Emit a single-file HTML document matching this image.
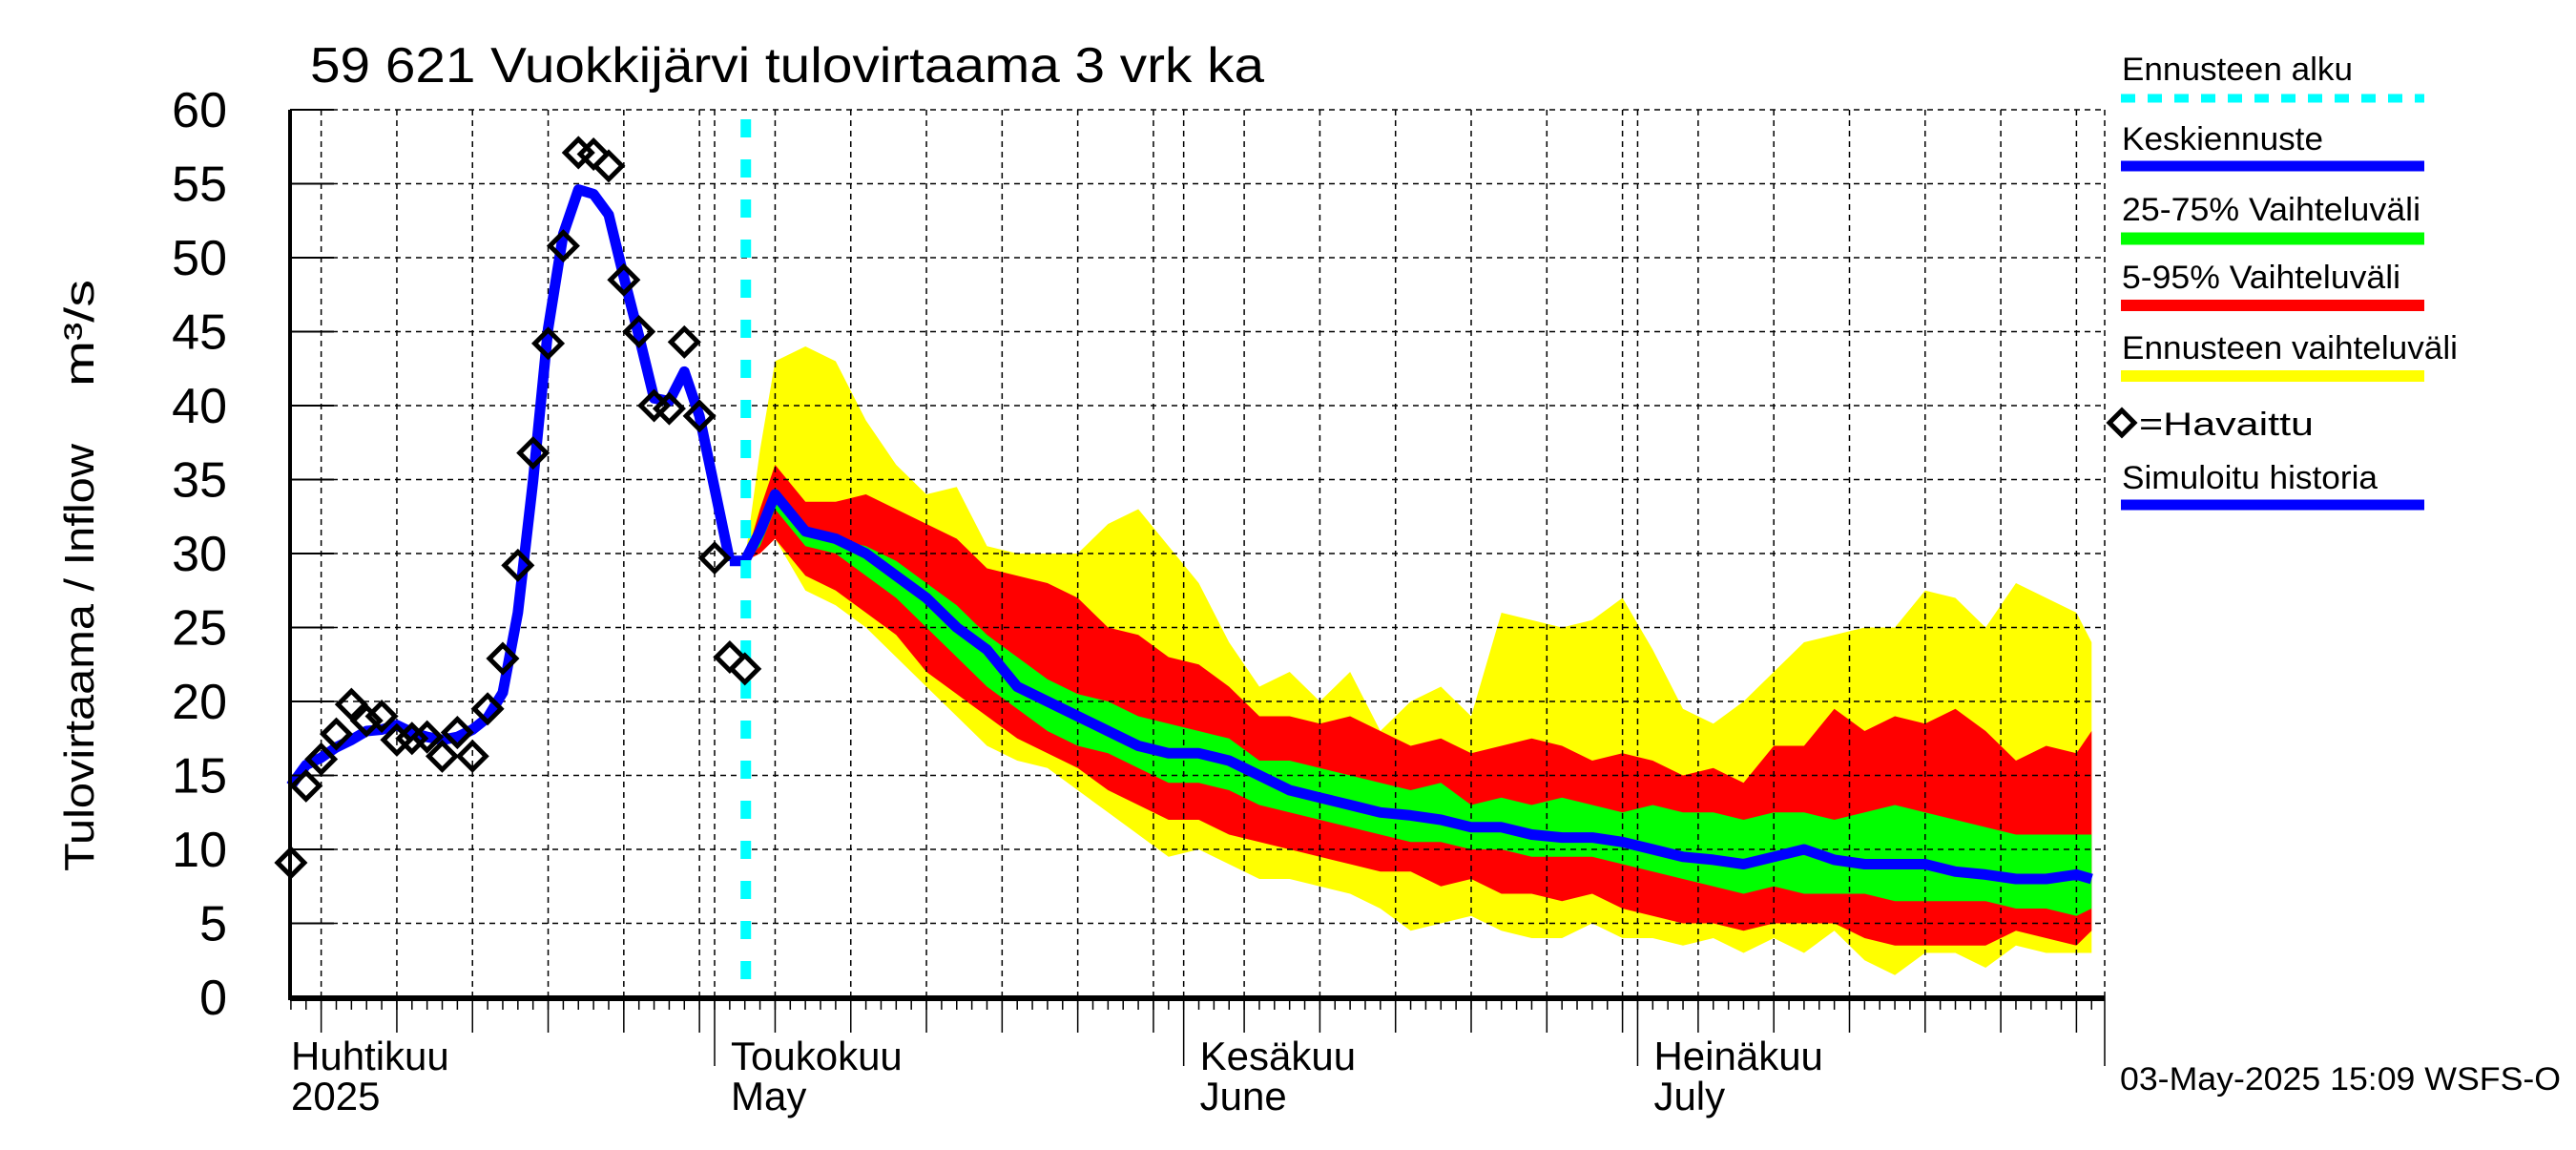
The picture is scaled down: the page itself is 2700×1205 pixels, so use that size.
<!DOCTYPE html>
<html><head><meta charset="utf-8"><style>
html,body{margin:0;padding:0;background:#fff;}
svg text{font-family:"Liberation Sans",sans-serif;fill:#000;}
</style></head><body>
<svg id="chart" width="2700" height="1200" viewBox="0 0 2700 1200" xmlns="http://www.w3.org/2000/svg">
<rect x="0" y="0" width="2700" height="1200" fill="#fff"/>
<g id="bands"></g>
<g id="grid"></g>
<g id="lines"></g>
<g id="axes"></g>
<text x="325" y="86" font-size="52" textLength="1000" lengthAdjust="spacingAndGlyphs">59 621  Vuokkijärvi tulovirtaama 3 vrk ka</text>
<text transform="translate(98,913) rotate(-90)" font-size="44" textLength="448" lengthAdjust="spacingAndGlyphs">Tulovirtaama / Inflow</text>
<text transform="translate(98,405) rotate(-90)" font-size="44" textLength="112" lengthAdjust="spacingAndGlyphs">m³/s</text>
<text x="2222" y="1142" font-size="34" textLength="462" lengthAdjust="spacingAndGlyphs">03-May-2025 15:09 WSFS-O</text>
<g>
<text x="2224" y="84" font-size="34" textLength="242" lengthAdjust="spacingAndGlyphs">Ennusteen alku</text>
<line x1="2223" y1="103" x2="2541" y2="103" stroke="#00ffff" stroke-width="9" stroke-dasharray="15 13"/>
<text x="2224" y="157" font-size="34" textLength="211" lengthAdjust="spacingAndGlyphs">Keskiennuste</text>
<line x1="2223" y1="174" x2="2541" y2="174" stroke="#0000ff" stroke-width="11"/>
<text x="2224" y="231" font-size="34" textLength="313" lengthAdjust="spacingAndGlyphs">25-75% Vaihteluväli</text>
<line x1="2223" y1="250" x2="2541" y2="250" stroke="#00ff00" stroke-width="13"/>
<text x="2224" y="302" font-size="34" textLength="292" lengthAdjust="spacingAndGlyphs">5-95% Vaihteluväli</text>
<line x1="2223" y1="320" x2="2541" y2="320" stroke="#ff0000" stroke-width="12"/>
<text x="2224" y="376" font-size="34" textLength="352" lengthAdjust="spacingAndGlyphs">Ennusteen vaihteluväli</text>
<line x1="2223" y1="394" x2="2541" y2="394" stroke="#ffff00" stroke-width="12"/>
<path d="M2224,430 L2237,443 L2224,456 L2211,443 Z" fill="none" stroke="#000" stroke-width="5"/>
<text x="2242" y="456" font-size="34" textLength="183" lengthAdjust="spacingAndGlyphs">=Havaittu</text>
<text x="2224" y="512" font-size="34" textLength="268" lengthAdjust="spacingAndGlyphs">Simuloitu historia</text>
<line x1="2223" y1="529" x2="2541" y2="529" stroke="#0000ff" stroke-width="11"/>
</g>
</svg>
<script>
// ---- data ----
const obsStartDay = -28;
const observed = [9.1,14.3,16.1,17.8,19.8,18.7,19.0,17.4,17.5,17.6,16.3,17.9,16.3,19.5,22.9,29.2,36.8,44.2,50.8,57.1,57.0,56.2,48.5,45.0,40.0,39.8,44.3,39.3,29.7,23.0,22.2];
const simStartDay = -28;
const simHistory = [14.3,15.7,16.2,16.9,17.4,18.0,18.1,18.4,17.9,17.6,17.4,17.6,18.1,18.9,20.6,26.0,34.9,45.2,51.6,54.6,54.3,52.9,48.7,44.7,40.5,40.3,42.3,39.3,34.4,29.5];
const fcDays = [2,3,4,6,8,10,12,14,16,18,20,22,24,26,28,30,32,34,36,38,40,42,44,46,48,50,52,54,56,58,60,62,64,66,68,70,72,74,76,78,80,82,84,86,88,90,91];
const fcMax = [29.5,37,43,44,43,39,36,34,34.5,30.5,30,30,30,32,33,30.5,28,24,21,22,20,22,18,20,21,19,26,25.5,25,25.5,27,23.5,19.5,18.5,20,22,24,24.5,25,25,27.5,27,25,28,27,26,24];
const fcP95 = [29.5,33,36,33.5,33.5,34,33,32,31,29,28.5,28,27,25,24.5,23,22.5,21,19,19,18.5,19,18,17,17.5,16.5,17,17.5,17,16,16.5,16,15,15.5,14.5,17,17,19.5,18,19,18.5,19.5,18,16,17,16.5,18];
const fcP75 = [29.5,32,34.5,31.5,31,30.5,29.5,28,26.5,24.5,23,21.5,20.5,20,19,18.5,18,17.5,16,16,15.5,15,14.5,14,14.5,13,13.5,13,13.5,13,12.5,13,12.5,12.5,12,12.5,12.5,12,12.5,13,12.5,12,11.5,11,11,11,11];
const fcMedian = [29.5,31.5,34,31.5,31,30,28.5,27,25,23.5,21,20,19,18,17,16.5,16.5,16,15,14,13.5,13,12.5,12.3,12,11.5,11.5,11,10.8,10.8,10.5,10,9.5,9.3,9,9.5,10,9.3,9,9,9,8.5,8.3,8,8,8.3,8];
const fcP25 = [29.5,30.5,33,30.5,30,28.5,27,25,23,21,19.5,18,17,16.5,15.5,14.5,14.5,14,13,12.5,12,11.5,11,10.5,10.5,10,10,9.5,9.5,9.5,9,8.5,8,7.5,7,7.5,7,7,7,6.5,6.5,6.5,6.5,6,6,5.5,6];
const fcP5 = [29.5,30,31,28.5,27.5,26,24.5,22,20.5,19,17.5,16.5,15.5,14,13,12,12,11,10.5,10,9.5,9,8.5,8.5,7.5,8,7,7,6.5,7,6,5.5,5,5,4.5,5,5,5,4,3.5,3.5,3.5,3.5,4.5,4,3.5,4.5];
const fcMin = [29.5,30,31,27.5,26.5,25,23,21,19,17,16,15.5,14,12.5,11,9.5,10,9,8,8,7.5,7,6,4.5,5,5.5,4.5,4,4,5,4,4,3.5,4,3,4,3,4.5,2.5,1.5,3,3,2,3.5,3,3,3];
const forecastStartDay = 2;
const yTicks = [0,5,10,15,20,25,30,35,40,45,50,55,60];
const monthNames = ["Huhtikuu","Toukokuu","Kesäkuu","Heinäkuu"];
const monthNamesEn = ["2025","May","June","July"];
const monthStartDays = [-30,0,31,61];

// ---- axes functions ----
const X0 = 749, PXD = 15.86, LEFT = 304, RIGHT = 2206, BOTTOM = 1045, TOP = 115;
function xd(d){ return X0 + d*PXD; }
function yv(v){ return BOTTOM - v*(BOTTOM-TOP)/60; }
const NS = "http://www.w3.org/2000/svg";
function mk(tag, attrs, parent){ const e=document.createElementNS(NS,tag); for(const k in attrs) e.setAttribute(k,attrs[k]); parent.appendChild(e); return e; }

const bands = document.getElementById('bands');
function band(lo, hi, color, name){
  let pts = fcDays.map((d,i)=>xd(d).toFixed(1)+','+yv(hi[i]).toFixed(1));
  for(let i=fcDays.length-1;i>=0;i--) pts.push(xd(fcDays[i]).toFixed(1)+','+yv(lo[i]).toFixed(1));
  const p = mk('polygon',{points:pts.join(' '),fill:color},bands);
  
  
}
band(fcMin, fcMax, '#ffff00', 'forecast-range-band');
band(fcP5, fcP95, '#ff0000', 'band-5-95');
band(fcP25, fcP75, '#00ff00', 'band-25-75');

// grid
const grid = document.getElementById('grid');
yTicks.forEach(v=>{
  if(v===0) return;
  const l = mk('line',{x1:LEFT,x2:RIGHT,y1:yv(v),y2:yv(v),stroke:'#000','stroke-width':1.5,'stroke-dasharray':'6 5'},grid);
  
  
});
const gridDays = [];
const monthLens = [30,31,30,31];
monthStartDays.forEach((ms,mi)=>{
  if(mi>0) gridDays.push({d:ms,m:true});
  for(let k=5;k<=30;k+=5){ if(k<=monthLens[mi]) gridDays.push({d:ms+k-1,m:false}); }
});
gridDays.forEach(g=>{
  const x = xd(g.d);
  if(x<LEFT+5||x>RIGHT) return;
  const l = mk('line',{x1:x,x2:x,y1:TOP,y2:BOTTOM,stroke:'#000','stroke-width':1.5,'stroke-dasharray':'6 5'},grid);
  
  
});
const rb = mk('line',{x1:RIGHT,x2:RIGHT,y1:TOP,y2:BOTTOM,stroke:'#000','stroke-width':1.5,'stroke-dasharray':'6 5'},grid);



// lines
const lines = document.getElementById('lines');
const simPts = simHistory.map((v,i)=>xd(simStartDay+i).toFixed(1)+','+yv(v).toFixed(1)).join(' ');
const sl = mk('polyline',{points:simPts,fill:'none',stroke:'#0000ff','stroke-width':11,'stroke-linejoin':'round'},lines);


const medPts = [xd(simStartDay+simHistory.length-1).toFixed(1)+','+yv(simHistory[simHistory.length-1]).toFixed(1)].concat(fcDays.map((d,i)=>xd(d).toFixed(1)+','+yv(fcMedian[i]).toFixed(1))).join(' ');
const ml = mk('polyline',{points:medPts,fill:'none',stroke:'#0000ff','stroke-width':11,'stroke-linejoin':'round'},lines);


const fs = mk('line',{x1:xd(forecastStartDay)+1,x2:xd(forecastStartDay)+1,y1:TOP+10,y2:BOTTOM,stroke:'#00ffff','stroke-width':11,'stroke-dasharray':'19 23'},lines);


observed.forEach((v,i)=>{
  const x = xd(obsStartDay+i), y = yv(v);
  const p = mk('path',{d:`M${x},${y-14} L${x+14},${y} L${x},${y+14} L${x-14},${y} Z`,fill:'none',stroke:'#000','stroke-width':5},lines);
  
  
});

// axes
const axes = document.getElementById('axes');
const ya = mk('line',{x1:LEFT,x2:LEFT,y1:TOP,y2:BOTTOM+3,stroke:'#000','stroke-width':4},axes);


const xa = mk('line',{x1:LEFT,x2:RIGHT,y1:BOTTOM+1,y2:BOTTOM+1,stroke:'#000','stroke-width':6},axes);


yTicks.forEach(v=>{
  const t = mk('line',{x1:LEFT,x2:LEFT+46,y1:yv(v),y2:yv(v),stroke:'#000','stroke-width':2},axes);
  
  
  const lb = mk('text',{x:238,y:yv(v)+18,'text-anchor':'end','font-size':52},axes);
  lb.textContent = v;
  
  
});
for(let d=-28; d<=92; d++){
  const x = xd(d); if(x>RIGHT+1) break;
  const t = mk('line',{x1:x,x2:x,y1:BOTTOM,y2:BOTTOM+13,stroke:'#000','stroke-width':1.5},axes);
  
  
}
gridDays.forEach(g=>{
  const x = xd(g.d); if(x<LEFT||x>RIGHT) return;
  const t = mk('line',{x1:x,x2:x,y1:BOTTOM,y2:g.m?1117:1082,stroke:'#000','stroke-width':1.5},axes);
  
  
});
const et = mk('line',{x1:RIGHT,x2:RIGHT,y1:BOTTOM,y2:1117,stroke:'#000','stroke-width':1.5},axes);


monthStartDays.forEach((ms,i)=>{
  const x = Math.max(LEFT+1, xd(ms)+17);
  const a = mk('text',{x:x,y:1121,'font-size':42},axes);
  a.textContent = monthNames[i];
  
  
  const b = mk('text',{x:x,y:1163,'font-size':42},axes);
  b.textContent = monthNamesEn[i];
  
  
});
</script>
</body></html>
